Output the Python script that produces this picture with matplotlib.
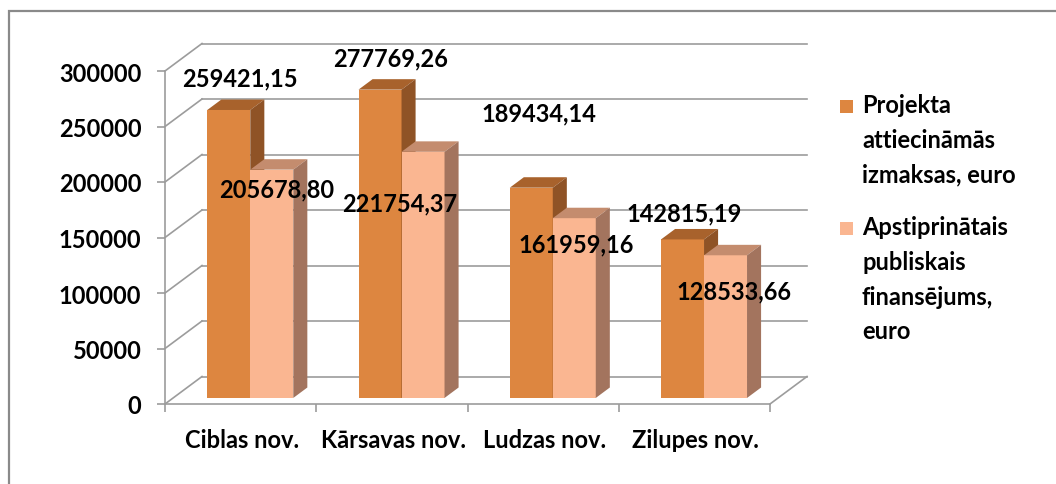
import matplotlib
matplotlib.use("Agg")
import matplotlib.pyplot as plt
from matplotlib.patches import Polygon, Rectangle

plt.rcParams["font.family"] = ["Lato", "DejaVu Sans"]
plt.rcParams["font.weight"] = "bold"

# data
categories = ["Ciblas nov.", "Kārsavas nov.", "Ludzas nov.", "Zilupes nov."]
series_names = ["Projekta\nattiecināmās\nizmaksas, euro",
                "Apstiprinātais\npubliskais\nfinansējums,\neuro"]
costs = [259421.15, 277769.26, 189434.14, 142815.19]
funding = [205678.80, 221754.37, 161959.16, 128533.66]
yticks = [0, 50000, 100000, 150000, 200000, 250000, 300000]

# label offsets (pixels, x right / y up) relative to top-front centre of each bar
cost_label_off = [(11, 32), (11, 32), (8, 75), (2, 27)]
fund_label_off = [(5, -19), (-23, -51), (2, -26), (8, -36)]

# colours: front, top, side
dark = ("#DD8640", "#A8622C", "#8F5326")
light = ("#FAB691", "#C48C6E", "#A3745E")
grid_c = "#9c9c9c"
fs = 17

W, H = 1056, 485
fig = plt.figure(figsize=(W / 100, H / 100), dpi=100)
ax = fig.add_axes([0, 0, 1, 1])

# pixel mapping of front plane: x=0 at px 165, 151.25 px / category; v=0 at py 405
px0, pxu = 165, 151.25
py0, pyk = 405, 0.00111
ax.set_xlim(-px0 / pxu, (W - px0) / pxu)
ax.set_ylim(-(H - py0) / pyk, py0 / pyk)

# depth offset of the box (data units)
dx, dy = 37 / pxu, 27.5 / pyk
f0, fd = 0.22, 0.38   # bar front position / bar depth as fraction of box depth
bw = 43 / pxu
n = len(categories)

# back wall gridlines and side wall diagonals
for v in yticks:
    ax.plot([dx, n + dx], [v + dy, v + dy], color=grid_c, lw=1.2, zorder=1)
    ax.plot([0, dx], [v, v + dy], color=grid_c, lw=1.2, zorder=1)
# floor right edge
ax.plot([n, n + dx], [0, dy], color=grid_c, lw=1.2, zorder=1)


def draw_bars(xs, vals, cols):
    ax.bar(xs, vals, width=bw, bottom=f0 * dy, align="edge",
           color=cols[0], edgecolor="none", zorder=3)
    for x, v in zip(xs, vals):
        b, t = f0 * dy, f0 * dy + v
        ax.add_patch(Polygon([(x, t), (x + bw, t), (x + bw + fd * dx, t + fd * dy),
                              (x + fd * dx, t + fd * dy)], closed=True,
                             facecolor=cols[1], edgecolor="none", zorder=3))
        ax.add_patch(Polygon([(x + bw, b), (x + bw, t), (x + bw + fd * dx, t + fd * dy),
                              (x + bw + fd * dx, b + fd * dy)], closed=True,
                             facecolor=cols[2], edgecolor="none", zorder=3))


centres = [i + 0.5 + 0.01 for i in range(n)]
x_cost = [c - bw + f0 * dx for c in centres]
x_fund = [c + f0 * dx for c in centres]
for i in range(n):
    draw_bars([x_cost[i]], [costs[i]], dark)
    draw_bars([x_fund[i]], [funding[i]], light)

# data labels
for xs, vals, offs in ((x_cost, costs, cost_label_off), (x_fund, funding, fund_label_off)):
    for x, v, (ox, oy) in zip(xs, vals, offs):
        txt = f"{v:.2f}".replace(".", ",")
        ax.annotate(txt, (x + bw / 2, f0 * dy + v), xytext=(ox, oy),
                    textcoords="offset pixels", ha="center", va="center",
                    fontsize=fs, zorder=5)

# axes
for s in ("top", "right"):
    ax.spines[s].set_visible(False)
ax.spines["left"].set_position(("data", 0))
ax.spines["bottom"].set_position(("data", 0))
ax.spines["left"].set_bounds(0, 300000)
ax.spines["bottom"].set_bounds(0, n)
for s in ("left", "bottom"):
    ax.spines[s].set_color(grid_c)
    ax.spines[s].set_linewidth(1.2)
ax.set_yticks(yticks)
ax.set_yticklabels([str(v) for v in yticks])
ax.set_xticks(range(n + 1))
ax.set_xticklabels([])
ax.set_xticks(centres, minor=True)
ax.set_xticklabels(categories, minor=True)
ax.tick_params(axis="y", direction="out", length=6, width=1.2, color=grid_c,
               pad=11, labelsize=fs)
ax.tick_params(axis="x", which="major", direction="out", length=6, width=1.2,
               color=grid_c)
ax.tick_params(axis="x", which="minor", length=0, pad=17, labelsize=fs)
ax.patch.set_visible(False)

# legend
leg_y = [101, 223]
for (y, name, cols) in zip(leg_y, series_names, (dark, light)):
    fig.patches.append(Rectangle((840 / W, 1 - (y + 13) / H), 13 / W, 13 / H,
                                 transform=fig.transFigure, facecolor=cols[0],
                                 edgecolor="none"))
    fig.text(862 / W, 1 - (y - 7) / H, name, ha="left", va="top",
             fontsize=fs, linespacing=1.62)

# outer chart border (top and left visible)
fig.patches.append(Rectangle((9 / W, -0.1), 1.2, 1 - 12 / H + 0.1,
                             transform=fig.transFigure, facecolor="none",
                             edgecolor="#8a8a8a", lw=1.6))

fig.savefig("out.png", dpi=100, facecolor="white")
